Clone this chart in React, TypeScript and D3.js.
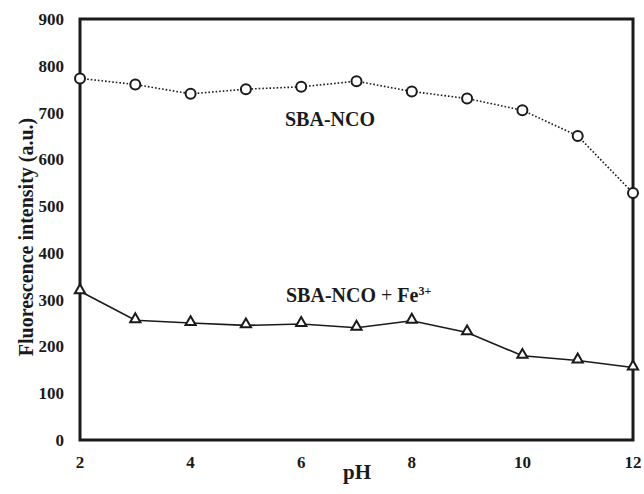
import React, { useEffect, useRef } from 'react';
import * as d3 from 'd3';

// pH values and measured fluorescence for both samples
const phValues = [2, 3, 4, 5, 6, 7, 8, 9, 10, 11, 12];
const sbaNco = [773, 760, 740, 750, 755, 767, 745, 730, 705, 650, 528];
const sbaNcoFe = [318, 256, 250, 245, 248, 240, 255, 230, 180, 170, 155];
const xTicks = [2, 4, 6, 8, 10, 12];
const yTicks = [0, 100, 200, 300, 400, 500, 600, 700, 800, 900];

const App = () => {
  const svgRef = useRef<SVGSVGElement>(null);

  useEffect(() => {
    const width = 644;
    const height = 494;
    const margin = { top: 19, right: 11, bottom: 54, left: 80 };
    const font = '"Liberation Serif", "Times New Roman", serif';
    const ink = '#1a1a1a';

    const svg = d3.select(svgRef.current);
    svg.selectAll('*').remove();

    const x = d3.scaleLinear().domain([2, 12]).range([margin.left, width - margin.right]);
    const y = d3.scaleLinear().domain([0, 900]).range([height - margin.bottom, margin.top]);

    // Frame
    svg
      .append('rect')
      .attr('x', x(2))
      .attr('y', y(900))
      .attr('width', x(12) - x(2))
      .attr('height', y(0) - y(900))
      .attr('fill', 'none')
      .attr('stroke', ink)
      .attr('stroke-width', 3);

    // Tick labels
    svg
      .append('g')
      .selectAll('text')
      .data(yTicks)
      .enter()
      .append('text')
      .attr('x', x(2) - 16)
      .attr('y', (d) => y(d))
      .attr('dy', '0.35em')
      .attr('text-anchor', 'end')
      .attr('font-family', font)
      .attr('font-weight', 'bold')
      .attr('font-size', 17)
      .attr('fill', ink)
      .text((d) => d);

    svg
      .append('g')
      .selectAll('text')
      .data(xTicks)
      .enter()
      .append('text')
      .attr('x', (d) => x(d))
      .attr('y', y(0) + 28)
      .attr('text-anchor', 'middle')
      .attr('font-family', font)
      .attr('font-weight', 'bold')
      .attr('font-size', 17)
      .attr('fill', ink)
      .text((d) => d);

    // Axis titles
    svg
      .append('text')
      .attr('x', 357)
      .attr('y', 479)
      .attr('text-anchor', 'middle')
      .attr('font-family', font)
      .attr('font-weight', 'bold')
      .attr('font-size', 21)
      .attr('fill', ink)
      .text('pH');

    svg
      .append('text')
      .attr('transform', `translate(33, 237) rotate(-90)`)
      .attr('text-anchor', 'middle')
      .attr('font-family', font)
      .attr('font-weight', 'bold')
      .attr('font-size', 20)
      .attr('fill', ink)
      .text('Fluorescence intensity (a.u.)');

    const line = d3
      .line<number>()
      .x((_, i) => x(phValues[i]))
      .y((d) => y(d));

    // SBA-NCO, dotted with open circles
    svg
      .append('path')
      .datum(sbaNco)
      .attr('d', line)
      .attr('fill', 'none')
      .attr('stroke', ink)
      .attr('stroke-width', 1.6)
      .attr('stroke-dasharray', '1.6,2');

    svg
      .append('g')
      .selectAll('circle')
      .data(sbaNco)
      .enter()
      .append('circle')
      .attr('cx', (_, i) => x(phValues[i]))
      .attr('cy', (d) => y(d))
      .attr('r', 5)
      .attr('fill', 'white')
      .attr('stroke', ink)
      .attr('stroke-width', 2);

    // SBA-NCO + Fe3+, solid with open triangles
    svg
      .append('path')
      .datum(sbaNcoFe)
      .attr('d', line)
      .attr('fill', 'none')
      .attr('stroke', ink)
      .attr('stroke-width', 1.6);

    const tri = d3.symbol().type(d3.symbolTriangle).size(45);
    svg
      .append('g')
      .selectAll('path')
      .data(sbaNcoFe)
      .enter()
      .append('path')
      .attr('d', tri)
      .attr('transform', (d, i) => `translate(${x(phValues[i])}, ${y(d) - 1})`)
      .attr('fill', 'white')
      .attr('stroke', ink)
      .attr('stroke-width', 2);

    // Series labels
    svg
      .append('text')
      .attr('x', 285)
      .attr('y', 126)
      .attr('font-family', font)
      .attr('font-weight', 'bold')
      .attr('font-size', 20)
      .attr('fill', ink)
      .text('SBA-NCO');

    const lbl = svg
      .append('text')
      .attr('x', 286)
      .attr('y', 302)
      .attr('font-family', font)
      .attr('font-weight', 'bold')
      .attr('font-size', 20)
      .attr('fill', ink);
    lbl.append('tspan').text('SBA-NCO');
    lbl.append('tspan').attr('font-weight', 'normal').text(' + ');
    lbl.append('tspan').text('Fe');
    lbl.append('tspan').attr('dy', -7).attr('font-size', 12).text('3+');
  }, []);

  return (
    <svg
      ref={svgRef}
      width={644}
      height={494}
      style={{ position: 'absolute', left: 0, top: 0, background: 'white' }}
    />
  );
};

export default App;
